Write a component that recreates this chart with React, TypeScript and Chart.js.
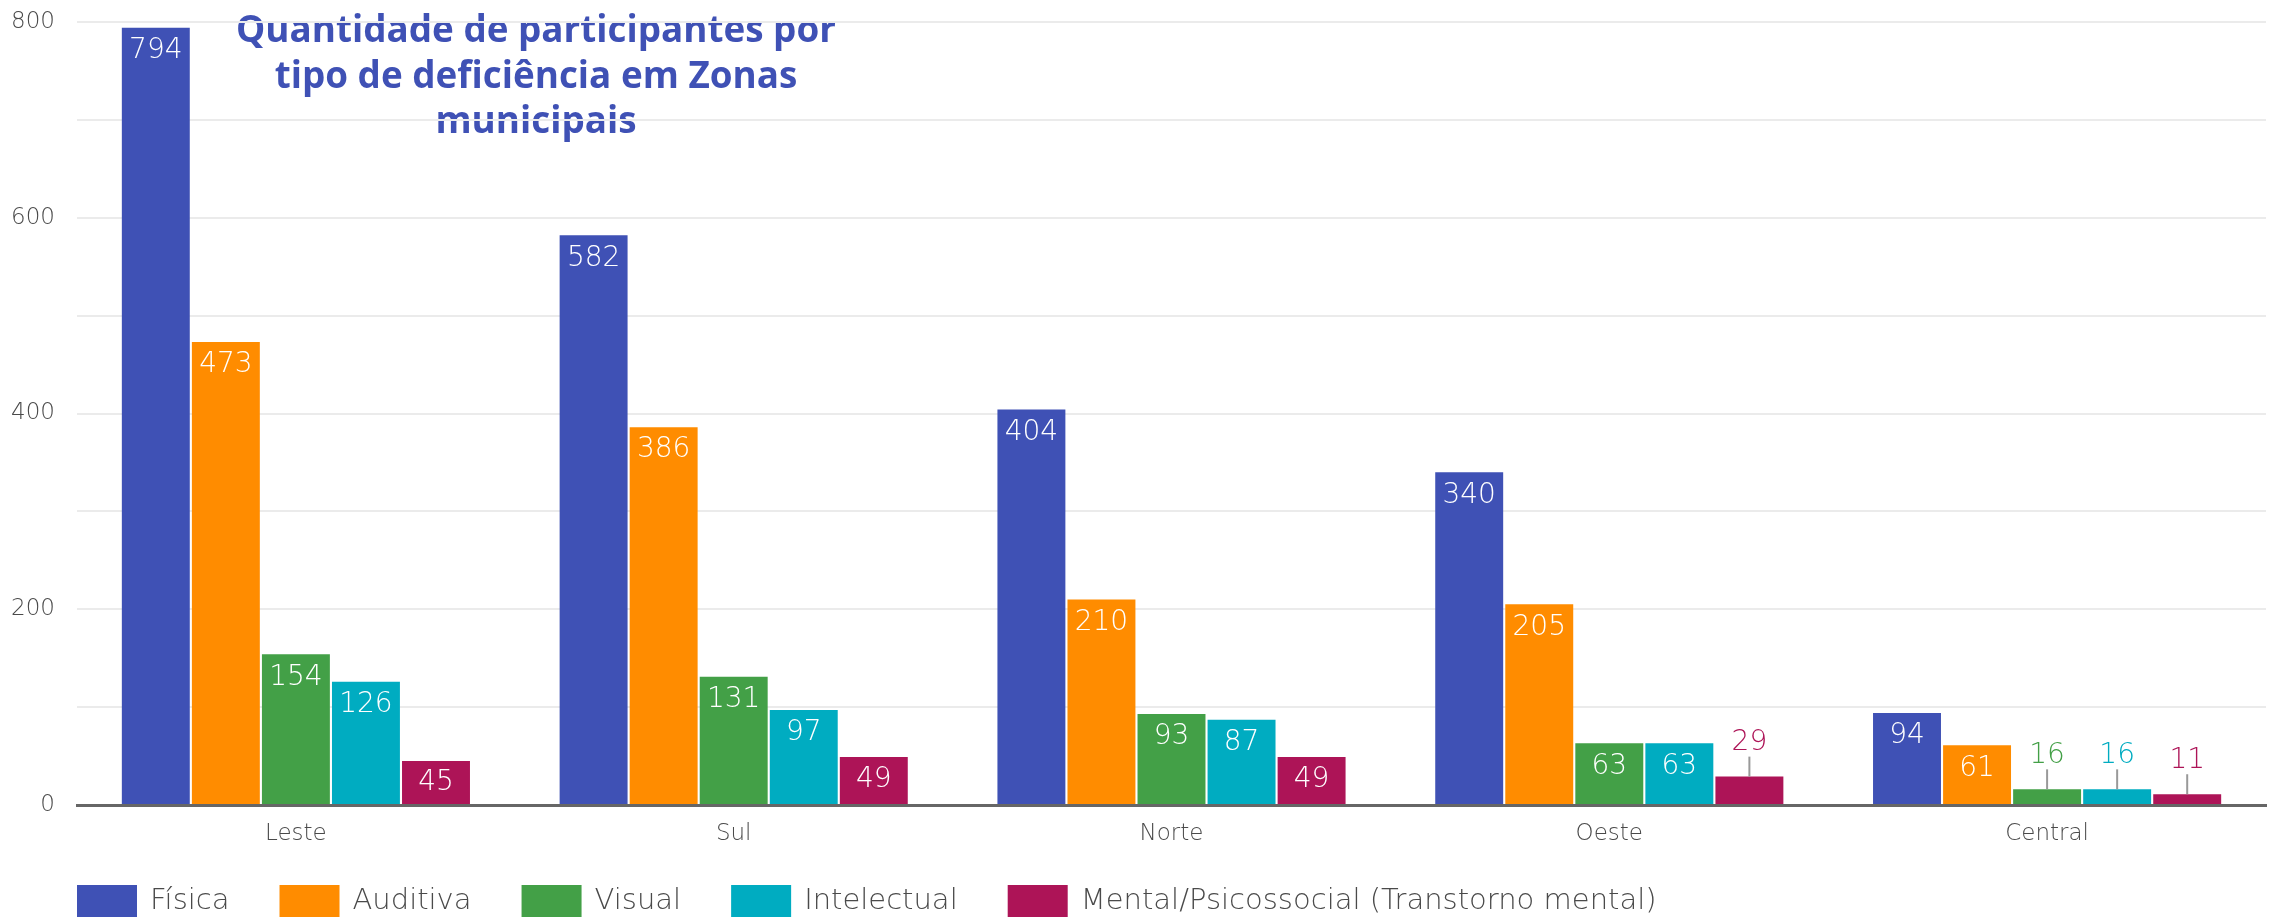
import React, { useEffect, useRef } from "react";
import { Chart, registerables } from "chart.js";

Chart.register(...registerables);

const categories = ["Leste", "Sul", "Norte", "Oeste", "Central"];
const seriesNames = [
  "Física",
  "Auditiva",
  "Visual",
  "Intelectual",
  "Mental/Psicossocial (Transtorno mental)",
];
const fisica = [794, 582, 404, 340, 94];
const auditiva = [473, 386, 210, 205, 61];
const visual = [154, 131, 93, 63, 16];
const intelectual = [126, 97, 87, 63, 16];
const mental = [45, 49, 49, 29, 11];
const seriesColors = ["#3F51B5", "#FF8C00", "#43A047", "#00ACC1", "#AD1457"];
const titleLines = [
  "Quantidade de participantes por",
  "tipo de deficiência em Zonas",
  "municipais",
];
const yTicks = [0, 200, 400, 600, 800];

const FONT = "'DejaVu Sans', 'Open Sans', sans-serif";
const TITLE_FONT = "'Open Sans', 'Liberation Sans', sans-serif";
const TEXT_GRAY = "#4a4a4a";

const titlePlugin = {
  id: "customTitle",
  beforeDraw(chart: any) {
    const ctx = chart.ctx;
    ctx.save();
    ctx.fillStyle = "#ffffff";
    ctx.fillRect(0, 0, chart.width, chart.height);
    let size = 33;
    ctx.font = `bold ${size}px ${TITLE_FONT}`;
    const w = ctx.measureText(titleLines[0]).width;
    size = (size * 600) / w;
    ctx.font = `bold ${size}px ${TITLE_FONT}`;
    ctx.fillStyle = "#3F51B5";
    ctx.textAlign = "center";
    ctx.textBaseline = "middle";
    const ys = [32, 78, 123];
    titleLines.forEach((line, i) => ctx.fillText(line, 536, ys[i]));
    ctx.restore();
  },
};

const labelsPlugin = {
  id: "barLabels",
  afterDatasetsDraw(chart: any) {
    const ctx = chart.ctx;
    ctx.save();
    ctx.font = `300 28px ${FONT}`;
    ctx.textAlign = "center";
    ctx.textBaseline = "middle";
    chart.data.datasets.forEach((ds: any, i: number) => {
      const meta = chart.getDatasetMeta(i);
      meta.data.forEach((bar: any, j: number) => {
        const v = ds.data[j];
        const { x, y, base } = bar.getProps(["x", "y", "base"], true);
        if (v >= 40) {
          const h = base - y;
          const off = Math.min(23, h / 2);
          ctx.fillStyle = "#ffffff";
          ctx.fillText(String(v), x, y + off);
        } else {
          ctx.strokeStyle = "#999999";
          ctx.lineWidth = 2;
          ctx.beginPath();
          ctx.moveTo(x, y);
          ctx.lineTo(x, y - 20);
          ctx.stroke();
          ctx.fillStyle = ds.backgroundColor;
          ctx.fillText(String(v), x, y - 34);
        }
      });
    });
    ctx.restore();
  },
};

const legendPlugin = {
  id: "customLegend",
  afterDraw(chart: any) {
    const ctx = chart.ctx;
    ctx.save();
    ctx.font = `300 29px ${FONT}`;
    ctx.textBaseline = "middle";
    ctx.textAlign = "left";
    let x = 77;
    const cy = 901;
    chart.data.datasets.forEach((ds: any) => {
      ctx.fillStyle = ds.backgroundColor;
      ctx.fillRect(x, cy - 16, 60, 32);
      ctx.fillStyle = TEXT_GRAY;
      ctx.fillText(ds.label, x + 73, cy);
      x += 73 + ctx.measureText(ds.label).width + 50;
    });
    ctx.restore();
  },
};

export default function App() {
  const ref = useRef<HTMLCanvasElement | null>(null);
  useEffect(() => {
    document.body.style.margin = "0";
    const seriesData = [fisica, auditiva, visual, intelectual, mental];
    const chart = new Chart(ref.current as HTMLCanvasElement, {
      type: "bar",
      data: {
        labels: categories,
        datasets: seriesNames.map((name, i) => ({
          label: name,
          data: seriesData[i],
          backgroundColor: seriesColors[i],
          categoryPercentage: 0.8,
          barPercentage: 0.97,
        })),
      },
      options: {
        responsive: false,
        animation: false,
        devicePixelRatio: 1,
        layout: { padding: { top: 22, right: 3, left: 0, bottom: 0 } },
        plugins: {
          legend: { display: false },
          title: { display: false },
          tooltip: { enabled: false },
        },
        scales: {
          x: {
            grid: { display: false, drawTicks: false },
            border: { display: true, color: "#666666", width: 3 },
            ticks: {
              color: TEXT_GRAY,
              font: { family: FONT, size: 23, weight: "300" },
              padding: 15,
            },
            afterFit(scale: any) {
              scale.height = 114;
            },
          },
          y: {
            min: 0,
            max: 800,
            grid: {
              color: "#ebebeb",
              lineWidth: 2,
              drawTicks: true,
              tickLength: 22,
              tickColor: "rgba(0,0,0,0)",
            },
            border: { display: false },
            ticks: {
              stepSize: 100,
              color: TEXT_GRAY,
              font: { family: FONT, size: 23, weight: "300" },
              padding: 0,
              callback: (v: any) => (yTicks.includes(Number(v)) ? String(v) : ""),
            },
            afterFit(scale: any) {
              scale.width = 77;
            },
          },
        },
      } as any,
      plugins: [titlePlugin, labelsPlugin, legendPlugin],
    });
    return () => chart.destroy();
  }, []);
  return (
    <div style={{ width: 2269, height: 919 }}>
      <canvas ref={ref} width={2269} height={919} style={{ width: 2269, height: 919, display: "block" }} />
    </div>
  );
}
